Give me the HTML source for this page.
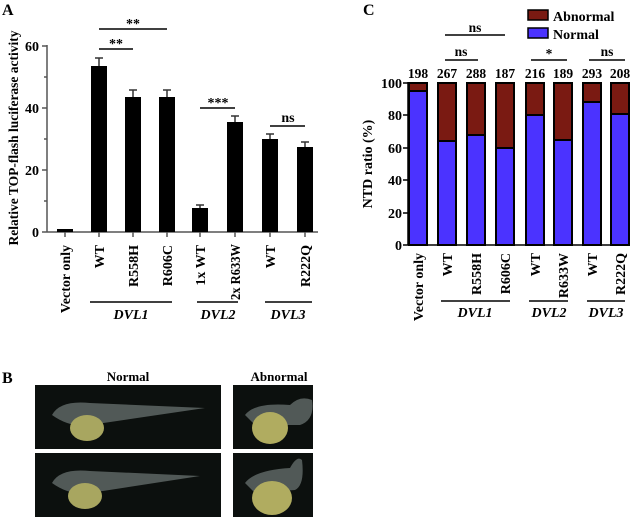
<!DOCTYPE html>
<html><head><meta charset="utf-8"><style>body{margin:0;background:#fff}svg{display:block}text{font-family:"Liberation Serif",serif;font-weight:bold}</style></head><body>
<svg width="635" height="521" viewBox="0 0 635 521" xmlns="http://www.w3.org/2000/svg">
<!-- Panel A -->
<text x="2" y="15" font-size="16">A</text>
<text transform="translate(18,138) rotate(-90)" font-size="13.5" text-anchor="middle">Relative TOP-flash luciferase activity</text>
<g stroke="#555" stroke-width="1.5" fill="none">
<line x1="47" y1="45" x2="47" y2="232"/>
<line x1="47" y1="232" x2="318" y2="232"/>
<line x1="42" y1="46" x2="47" y2="46"/><line x1="44" y1="77" x2="47" y2="77"/>
<line x1="42" y1="108" x2="47" y2="108"/><line x1="44" y1="139" x2="47" y2="139"/>
<line x1="42" y1="170" x2="47" y2="170"/><line x1="44" y1="201" x2="47" y2="201"/>
<line x1="42" y1="232" x2="47" y2="232"/>
<line x1="65" y1="232" x2="65" y2="237"/><line x1="99" y1="232" x2="99" y2="237"/><line x1="133" y1="232" x2="133" y2="237"/><line x1="167" y1="232" x2="167" y2="237"/><line x1="200" y1="232" x2="200" y2="237"/><line x1="235" y1="232" x2="235" y2="237"/><line x1="270" y1="232" x2="270" y2="237"/><line x1="305" y1="232" x2="305" y2="237"/>
</g>
<g font-size="14" text-anchor="end"><text x="39" y="51">60</text><text x="39" y="113">40</text><text x="39" y="175">20</text><text x="39" y="237">0</text></g>
<g fill="#000">
<rect x="57" y="229" width="16" height="3"/>
<rect x="91" y="66" width="16" height="166"/>
<rect x="125" y="97" width="16" height="135"/>
<rect x="159" y="97" width="16" height="135"/>
<rect x="192" y="208" width="16" height="24"/>
<rect x="227" y="122" width="16" height="110"/>
<rect x="262" y="139" width="16" height="93"/>
<rect x="297" y="147" width="16" height="85"/>
</g>
<g stroke="#333" stroke-width="1.5">
<line x1="99" y1="58" x2="99" y2="66"/><line x1="95" y1="58" x2="103" y2="58"/>
<line x1="133" y1="90" x2="133" y2="97"/><line x1="129" y1="90" x2="137" y2="90"/>
<line x1="167" y1="90" x2="167" y2="97"/><line x1="163" y1="90" x2="171" y2="90"/>
<line x1="200" y1="205" x2="200" y2="208"/><line x1="196" y1="205" x2="204" y2="205"/>
<line x1="235" y1="116" x2="235" y2="122"/><line x1="231" y1="116" x2="239" y2="116"/>
<line x1="270" y1="134" x2="270" y2="139"/><line x1="266" y1="134" x2="274" y2="134"/>
<line x1="305" y1="142" x2="305" y2="147"/><line x1="301" y1="142" x2="309" y2="142"/>
</g>
<g stroke="#000" stroke-width="1.5">
<line x1="99" y1="29" x2="167" y2="29"/><line x1="99" y1="49" x2="133" y2="49"/>
<line x1="200" y1="108" x2="235" y2="108"/><line x1="270" y1="126" x2="305" y2="126"/>
<line x1="90" y1="302" x2="172" y2="302"/><line x1="197" y1="302" x2="238" y2="302"/><line x1="265" y1="302" x2="312" y2="302"/>
</g>
<g font-size="14" text-anchor="middle"><text x="133" y="28">**</text><text x="116" y="48">**</text><text x="218" y="107">***</text><text x="288" y="122">ns</text></g>
<g font-size="14" text-anchor="end">
<text transform="translate(70,245) rotate(-90)">Vector only</text>
<text transform="translate(104,245) rotate(-90)">WT</text>
<text transform="translate(138,245) rotate(-90)">R558H</text>
<text transform="translate(172,245) rotate(-90)">R606C</text>
<text transform="translate(205,245) rotate(-90)">1x WT</text>
<text transform="translate(240,244) rotate(-90)" font-size="13.5" textLength="56" lengthAdjust="spacingAndGlyphs">2x R633W</text>
<text transform="translate(275,245) rotate(-90)">WT</text>
<text transform="translate(310,245) rotate(-90)">R222Q</text>
</g>
<g font-size="14" font-style="italic" text-anchor="middle"><text x="131" y="319">DVL1</text><text x="218" y="319">DVL2</text><text x="288" y="319">DVL3</text></g>

<!-- Panel C -->
<text x="363" y="15" font-size="16">C</text>
<rect x="528" y="10" width="20" height="10" fill="#7a1a12" stroke="#000" stroke-width="1.5"/>
<rect x="528" y="28" width="20" height="10" fill="#4b33ff" stroke="#000" stroke-width="1.5"/>
<text x="553" y="21" font-size="14">Abnormal</text><text x="553" y="39" font-size="14">Normal</text>
<text transform="translate(372,164) rotate(-90)" font-size="14" text-anchor="middle">NTD ratio (%)</text>
<g font-size="14" text-anchor="end"><text x="402" y="88">100</text><text x="402" y="120">80</text><text x="402" y="153">60</text><text x="402" y="185">40</text><text x="402" y="218">20</text><text x="402" y="250">0</text></g>
<g stroke="#000" stroke-width="1.5"><line x1="408" y1="82" x2="408" y2="245"/><line x1="408" y1="245" x2="630" y2="245"/>
<line x1="403" y1="83" x2="408" y2="83"/><line x1="403" y1="115" x2="408" y2="115"/><line x1="403" y1="148" x2="408" y2="148"/><line x1="403" y1="180" x2="408" y2="180"/><line x1="403" y1="213" x2="408" y2="213"/><line x1="403" y1="245" x2="408" y2="245"/>
<line x1="445" y1="35" x2="505" y2="35"/><line x1="445" y1="60" x2="478" y2="60"/><line x1="531" y1="60" x2="567" y2="60"/><line x1="589" y1="60" x2="625" y2="60"/>
<line x1="441" y1="301" x2="510" y2="301"/><line x1="529" y1="301" x2="568" y2="301"/><line x1="587" y1="301" x2="625" y2="301"/>
</g>
<g stroke="#000" stroke-width="2">
<rect x="409" y="83" width="18" height="162" fill="#7a1a12"/><rect x="409" y="91" width="18" height="154" fill="#4b33ff"/>
<rect x="438" y="83" width="18" height="162" fill="#7a1a12"/><rect x="438" y="141" width="18" height="104" fill="#4b33ff"/>
<rect x="467" y="83" width="18" height="162" fill="#7a1a12"/><rect x="467" y="135" width="18" height="110" fill="#4b33ff"/>
<rect x="496" y="83" width="18" height="162" fill="#7a1a12"/><rect x="496" y="148" width="18" height="97" fill="#4b33ff"/>
<rect x="526" y="83" width="18" height="162" fill="#7a1a12"/><rect x="526" y="115" width="18" height="130" fill="#4b33ff"/>
<rect x="554" y="83" width="18" height="162" fill="#7a1a12"/><rect x="554" y="140" width="18" height="105" fill="#4b33ff"/>
<rect x="583" y="83" width="18" height="162" fill="#7a1a12"/><rect x="583" y="102" width="18" height="143" fill="#4b33ff"/>
<rect x="611" y="83" width="18" height="162" fill="#7a1a12"/><rect x="611" y="114" width="18" height="131" fill="#4b33ff"/>
</g>
<g font-size="13.5" text-anchor="middle"><text x="418" y="78">198</text><text x="447" y="78">267</text><text x="476" y="78">288</text><text x="505" y="78">187</text><text x="535" y="78">216</text><text x="563" y="78">189</text><text x="592" y="78">293</text><text x="620" y="78">208</text>
<text x="475" y="32">ns</text><text x="461" y="56">ns</text><text x="549" y="58">*</text><text x="607" y="56">ns</text></g>
<g font-size="14" text-anchor="end">
<text transform="translate(423,253) rotate(-90)">Vector only</text>
<text transform="translate(452,253) rotate(-90)">WT</text>
<text transform="translate(481,253) rotate(-90)">R558H</text>
<text transform="translate(510,253) rotate(-90)">R606C</text>
<text transform="translate(540,253) rotate(-90)">WT</text>
<text transform="translate(568,253) rotate(-90)">R633W</text>
<text transform="translate(597,253) rotate(-90)">WT</text>
<text transform="translate(625,253) rotate(-90)">R222Q</text>
</g>
<g font-size="14" font-style="italic" text-anchor="middle"><text x="475" y="317">DVL1</text><text x="549" y="317">DVL2</text><text x="606" y="317">DVL3</text></g>

<!-- Panel B -->
<text x="2" y="383" font-size="16">B</text>
<text x="128" y="381" font-size="13" text-anchor="middle">Normal</text>
<text x="279" y="381" font-size="13" text-anchor="middle">Abnormal</text>
<rect x="35" y="385" width="186" height="64" fill="#0c100e"/>
<rect x="35" y="453" width="186" height="64" fill="#0c100e"/>
<rect x="233" y="385" width="80" height="64" fill="#0c100e"/>
<rect x="233" y="453" width="80" height="64" fill="#0c100e"/>
<g>
<path d="M52,415 Q60,400 90,403 L205,408 L90,425 Q70,428 52,415Z" fill="#8a9694" opacity="0.55"/>
<ellipse cx="87" cy="428" rx="17" ry="13" fill="#a8a660"/>
<path d="M52,483 Q60,468 90,471 L200,476 L90,493 Q70,496 52,483Z" fill="#8a9694" opacity="0.55"/>
<ellipse cx="85" cy="496" rx="17" ry="13" fill="#a8a660"/>
<path d="M245,415 Q255,402 290,405 Q300,395 312,400 Q315,420 300,425 L255,425Z" fill="#8a9694" opacity="0.55"/>
<ellipse cx="270" cy="428" rx="18" ry="16" fill="#b0ac60"/>
<path d="M245,483 Q255,470 290,468 Q297,455 302,460 Q305,485 295,490 L255,493Z" fill="#8a9694" opacity="0.55"/>
<ellipse cx="272" cy="498" rx="20" ry="17" fill="#b0ac60"/>
</g>
</svg>
</body></html>
